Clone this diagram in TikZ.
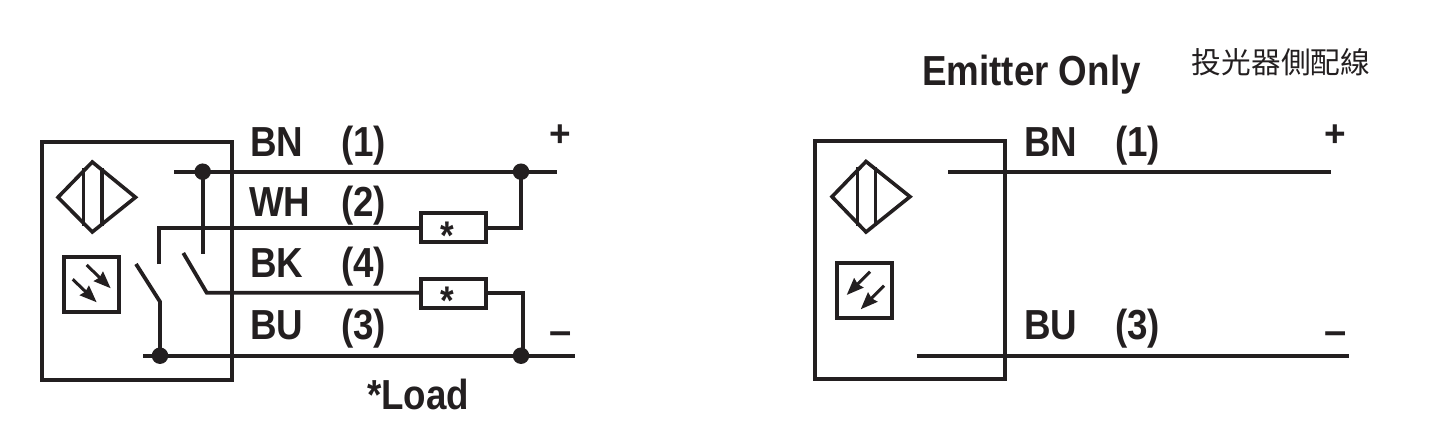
\documentclass[tikz,border=0pt]{standalone}
\usepackage{fontspec}
\setmainfont{Liberation Sans}
\newfontfamily\narrowbold[FakeStretch=0.875]{Liberation Sans Bold}
\newfontfamily\widebold{Liberation Sans Bold}
\newfontfamily\cjkfont{Noto Sans CJK TC}
\usetikzlibrary{arrows.meta}
\definecolor{ink}{HTML}{231F20}
\tikzset{
  wire/.style={draw=ink,line width=3.8pt},
  thin wire/.style={draw=ink,line width=3.6pt},
  housing/.style={draw=ink,line width=4pt,rectangle,inner sep=0pt,outer sep=0pt,anchor=north west},
  loadbox/.style={draw=ink,line width=3.8pt,fill=white,rectangle,inner sep=0pt,outer sep=0pt,minimum width=65pt,minimum height=29pt},
  junction/.style={circle,fill=ink,inner sep=0pt,minimum size=16.5pt},
  lab/.style={text=ink,inner sep=0pt,anchor=base west,font=\narrowbold\fontsize{42}{42}\selectfont},
  sym/.style={text=ink,inner sep=0pt,anchor=center,font=\widebold\fontsize{37}{37}\selectfont},
  dashsym/.style={text=ink,inner sep=0pt,anchor=center,font=\widebold\fontsize{40}{40}\selectfont},
  star/.style={text=ink,inner sep=0pt,anchor=center,font=\narrowbold\fontsize{40}{40}\selectfont},
  ray/.style={draw=ink,line width=3pt,-{Stealth[length=17pt,width=13pt,inset=1.5pt]}},
  iconbox/.style={draw=ink,line width=3.8pt,rectangle,inner sep=0pt,outer sep=0pt,minimum size=55pt,anchor=center},
}
\begin{document}
\begin{tikzpicture}[x=1pt,y=-1pt]
\useasboundingbox (0,0) rectangle (1456,444);
% ---------- left housing
\node[housing,minimum width=190pt,minimum height=238pt] (hl) at (41.5,142) {};
% diamond
\draw[thin wire,line join=miter] (58,197.3) -- (92.3,162) -- (135.5,197.3) -- (92.3,232) -- cycle;
\draw[thin wire] (83.5,168) -- (83.5,226);
\draw[thin wire] (101.7,168) -- (101.7,226);
% photo icon
\node[iconbox] (il) at (91.3,284.5) {};
\coordinate (ra1) at (86.7,265); \coordinate (rb1) at (110.7,288.3);
\coordinate (ra2) at (72.7,279.3); \coordinate (rb2) at (96.7,302.3);
\draw[ray] (ra1) -- (rb1);
\draw[ray] (ra2) -- (rb2);
% junctions and ends
\node[junction] (j1) at (202.7,171.7) {};
\node[junction] (j2) at (521,171.7) {};
\node[junction] (j3) at (160,355.7) {};
\node[junction] (j4) at (521,355.7) {};
\coordinate (bnl) at (174,171.7); \coordinate (bnr) at (556.7,171.7);
\coordinate (bul) at (143,355.7); \coordinate (bur) at (575,355.7);
\coordinate (nc1) at (202.7,254);
\coordinate (whs) at (158.7,264); \coordinate (whc) at (158.7,228);
\coordinate (sw1a) at (136,264); \coordinate (sw1b) at (160,301.7);
\coordinate (sw2a) at (183.3,253); \coordinate (sw2b) at (206.7,292.7);
\coordinate (drop) at (523.3,355.7);
\node[loadbox] (l1) at (453.8,227.5) {};
\node[loadbox] (l2) at (453.8,293.5) {};
\node[star] (s1) at (447.7,236) {*};
\node[star] (s2) at (447.7,301) {*};
\draw[wire] (bnl) -- (bnr);
\draw[wire] (bul) -- (bur);
\draw[wire] (j1.center) -- (nc1);
\draw[wire,line join=miter] (whs) -- (whc) -- (l1.west |- whc);
\draw[wire,line join=miter] (l1.east |- whc) -| (j2.center);
\draw[wire] (sw1a) -- (sw1b) -- (j3.center);
\draw[wire] (sw2a) -- (sw2b) -- (sw2b -| l2.west);
\draw[wire,line join=miter] (l2.east |- sw2b) -| (drop);
% left labels
\node[lab] (t1) at (250,156) {BN};
\node[lab] (t2) at (249,216) {WH};
\node[lab] (t3) at (250,277) {BK};
\node[lab] (t4) at (250,339) {BU};
\node[lab] (n1) at (341,156) {(1)};
\node[lab] (n2) at (341,216) {(2)};
\node[lab] (n3) at (341,277) {(4)};
\node[lab] (n4) at (341,339) {(3)};
\node[sym] (pl) at (560.5,136) {+};
\node[dashsym] (ml) at (560.5,338) {–};
\node[lab] (ld) at (367,409) {*Load};
% ---------- right housing
\node[housing,minimum width=190pt,minimum height=238pt] (hr) at (815.3,141.3) {};
\draw[thin wire,line join=miter] (832,196.7) -- (866,161.5) -- (910,196.7) -- (866,232) -- cycle;
\draw[thin wire] (857.3,167) -- (857.3,226);
\draw[thin wire] (875.3,167) -- (875.3,226);
\node[iconbox] (ir) at (864.7,290.2) {};
\coordinate (rc1) at (870,271.7); \coordinate (rd1) at (846.7,295);
\coordinate (rc2) at (884,285.7); \coordinate (rd2) at (860.7,309.3);
\draw[ray] (rc1) -- (rd1);
\draw[ray] (rc2) -- (rd2);
\coordinate (wa) at (948,171.7); \coordinate (wb) at (1331,171.7);
\coordinate (wc) at (916.7,355.7); \coordinate (wd) at (1349,355.7);
\draw[wire] (wa) -- (wb);
\draw[wire] (wc) -- (wd);
\node[lab] (t5) at (1024,156) {BN};
\node[lab] (t6) at (1024,339) {BU};
\node[lab] (n5) at (1115,156) {(1)};
\node[lab] (n6) at (1115,339) {(3)};
\node[sym] (pr) at (1335,136) {+};
\node[dashsym] (mr) at (1335.5,338) {–};
\node[lab] (em) at (922,85.5) {Emitter Only};
\node[text=ink,inner sep=0pt,anchor=center,font=\cjkfont\fontsize{29.7}{30}\selectfont] (cj) at (1281,62) {投光器側配線};
\end{tikzpicture}
\end{document}
